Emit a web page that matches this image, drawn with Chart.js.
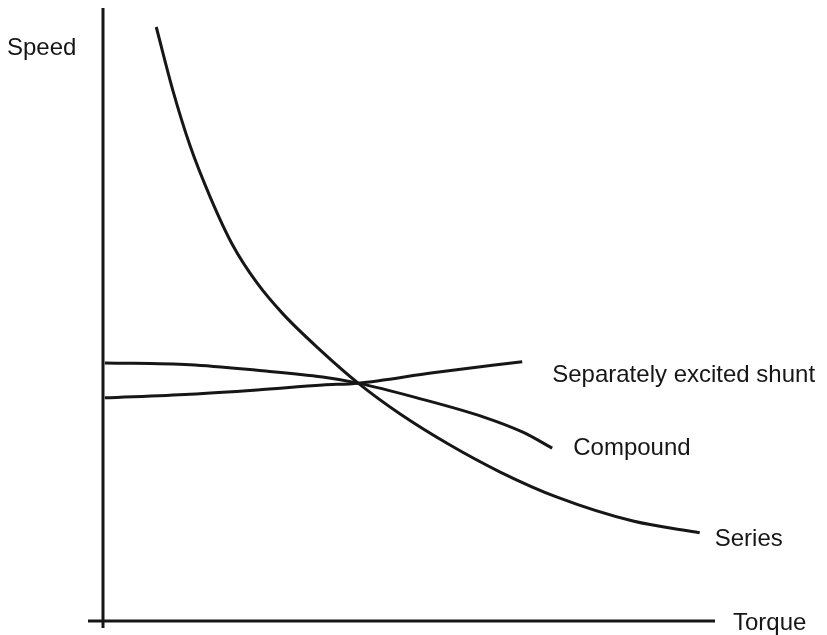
<!DOCTYPE html>
<html>
<head>
<meta charset="utf-8">
<script src="https://cdn.jsdelivr.net/npm/chart.js@4.4.0/dist/chart.umd.min.js"></script>
<style>
  html, body { margin: 0; padding: 0; background: #fff; }
  #wrap { width: 827px; height: 635px; position: relative; }
</style>
</head>
<body>
<div id="wrap"><canvas id="motorChart"></canvas></div>
<script>
// torque / speed readings for the three dc motor types (arbitrary units, 0-100)
const seriesTorque = [8.7, 11.4, 14.2, 17.5, 21.2, 25.2, 29.4, 35.5, 41.7, 48.5, 56.7, 64.9, 74.2, 86.6, 97.5];
const seriesSpeed  = [96.9, 86.6, 77.6, 69.2, 61.3, 55.1, 50.1, 44.2, 38.8, 33.8, 28.7, 24.3, 20.2, 16.3, 14.4];

const compoundTorque = [0.3, 14.2, 25.2, 35.9, 41.7, 51.3, 62.1, 68.6, 73.4];
const compoundSpeed  = [42.1, 41.8, 40.9, 39.8, 38.8, 36.4, 33.3, 30.8, 28.2];

const shuntTorque = [0.3, 14.2, 25.2, 35.9, 41.7, 53.9, 68.5];
const shuntSpeed  = [36.4, 37.0, 37.7, 38.5, 38.8, 40.5, 42.3];

const curveNames = ['Series', 'Compound', 'Separately excited shunt'];
const axisTitles = ['Torque', 'Speed'];

const ink = '#161616';
const textFont = '24px "Liberation Sans", Arial, sans-serif';

const toPoints = (xs, ys) => xs.map((x, i) => ({ x: x, y: ys[i] }));

const lineStyle = {
  showLine: true,
  borderColor: ink,
  borderWidth: 3,
  pointRadius: 0,
  cubicInterpolationMode: 'monotone',
  clip: false,
};

// axis lines with the little overshoot past the origin, plus the text labels
const sketchAxes = {
  id: 'sketchAxes',
  afterDatasetsDraw(chart) {
    const {ctx, scales: {x, y}} = chart;
    const x0 = x.getPixelForValue(0), y0 = y.getPixelForValue(0);
    ctx.save();
    ctx.strokeStyle = ink;
    ctx.lineWidth = 3;
    ctx.lineCap = 'butt';
    ctx.beginPath();
    ctx.moveTo(x0, y.getPixelForValue(100));
    ctx.lineTo(x0, y0 + 7);
    ctx.moveTo(x0 - 15, y0);
    ctx.lineTo(x.getPixelForValue(100), y0);
    ctx.stroke();

    ctx.fillStyle = ink;
    ctx.font = textFont;
    ctx.textBaseline = 'alphabetic';
    ctx.textAlign = 'left';
    ctx.fillText(axisTitles[0], x.getPixelForValue(100) + 18, y0 + 9);
    ctx.fillText(axisTitles[1], 7, 55);

    // curve names sit just past the end of each line
    const offsets = [[15, 13], [21, 7], [30, 20]];
    chart.data.datasets.forEach((ds, i) => {
      const last = ds.data[ds.data.length - 1];
      ctx.fillText(curveNames[i],
        x.getPixelForValue(last.x) + offsets[i][0],
        y.getPixelForValue(last.y) + offsets[i][1]);
    });
    ctx.restore();
  }
};

new Chart(document.getElementById('motorChart'), {
  type: 'scatter',
  data: {
    datasets: [
      { label: curveNames[0], data: toPoints(seriesTorque, seriesSpeed), ...lineStyle },
      { label: curveNames[1], data: toPoints(compoundTorque, compoundSpeed), ...lineStyle },
      { label: curveNames[2], data: toPoints(shuntTorque, shuntSpeed), ...lineStyle },
    ]
  },
  options: {
    responsive: true,
    maintainAspectRatio: false,
    animation: false,
    layout: { padding: { left: 103, right: 112, top: 8, bottom: 14 } },
    scales: {
      x: { type: 'linear', min: 0, max: 100, display: false },
      y: { type: 'linear', min: 0, max: 100, display: false },
    },
    plugins: {
      legend: { display: false },
      tooltip: { enabled: false },
    },
  },
  plugins: [sketchAxes],
});
</script>
</body>
</html>
